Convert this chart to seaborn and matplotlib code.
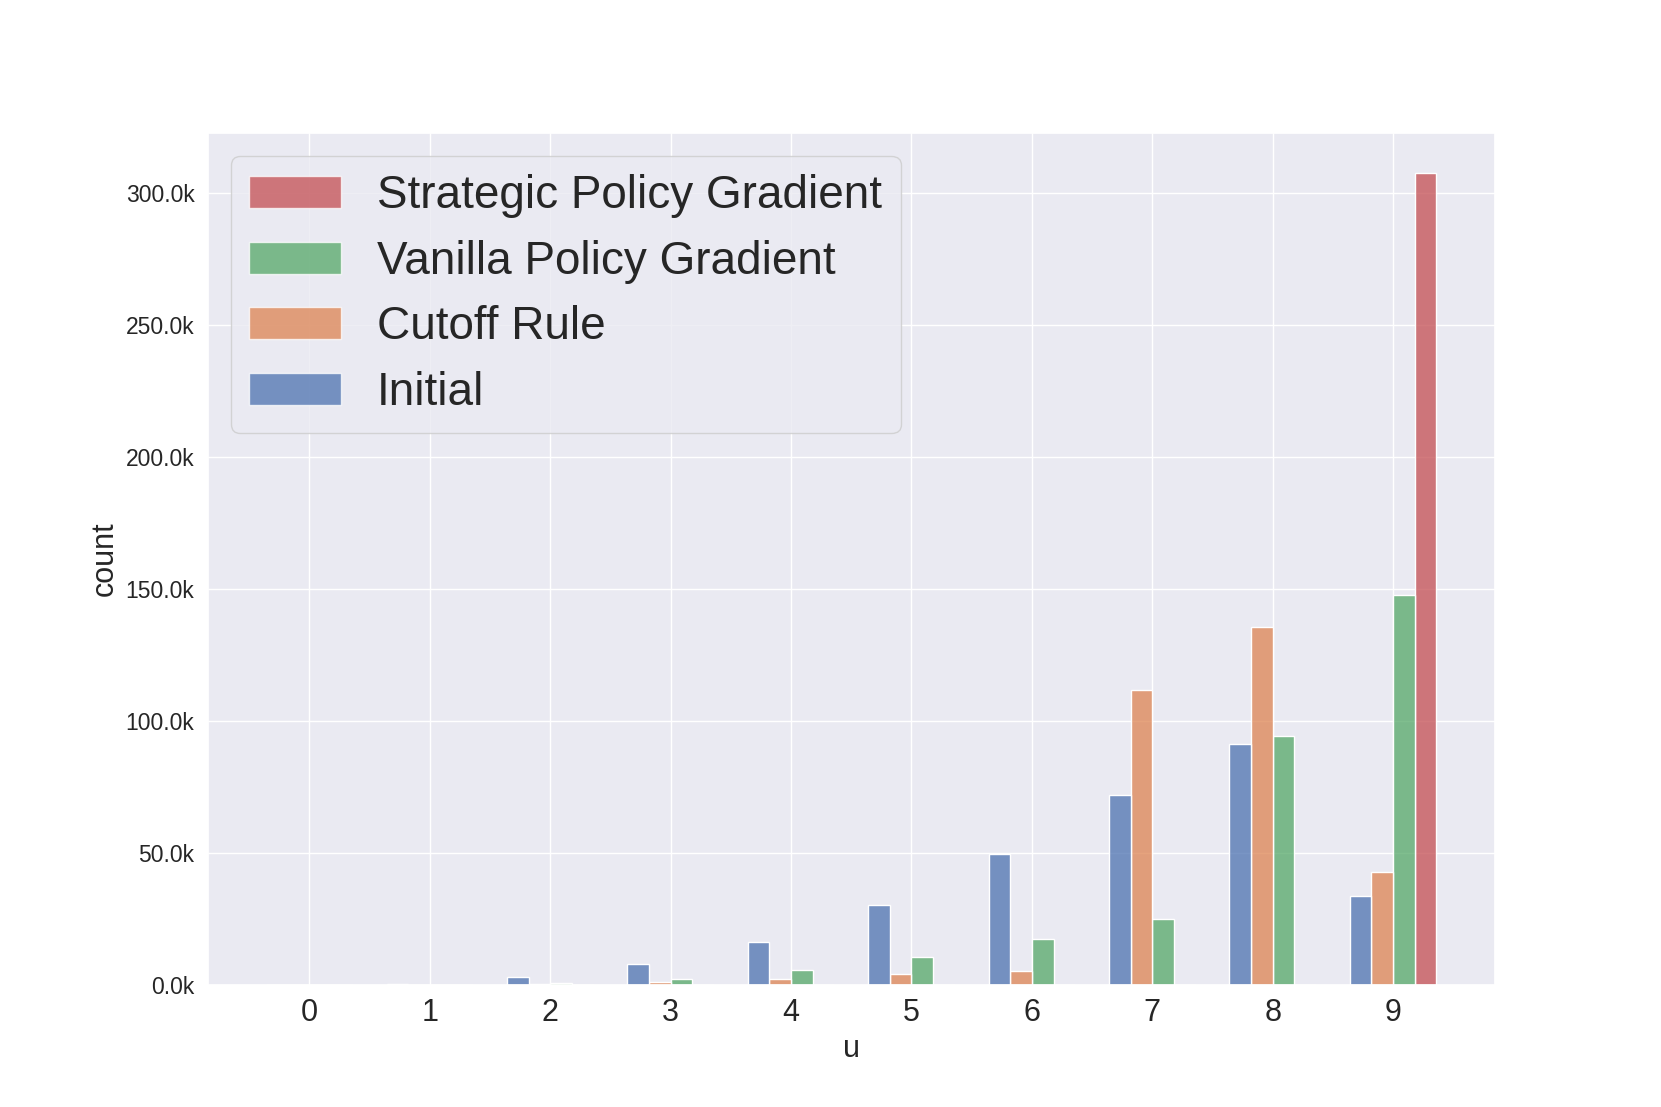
import numpy as np
import pandas as pd
import seaborn as sns
import matplotlib
matplotlib.use("Agg")
import matplotlib.pyplot as plt
from matplotlib.patches import Patch
from matplotlib.ticker import FuncFormatter

# ---- data ----
u_values = [0, 1, 2, 3, 4, 5, 6, 7, 8, 9]
methods = ["Initial", "Cutoff Rule", "Vanilla Policy Gradient", "Strategic Policy Gradient"]
initial_counts = [0, 400, 3000, 8000, 16300, 30200, 49500, 72000, 91200, 33900]
cutoff_counts = [0, 100, 600, 1400, 2300, 4300, 5400, 111900, 135500, 43000]
vanilla_counts = [0, 100, 900, 2500, 5600, 10700, 17600, 24900, 94400, 147600]
strategic_counts = [0, 0, 0, 0, 0, 0, 0, 0, 0, 307300]
legend_order = ["Strategic Policy Gradient", "Vanilla Policy Gradient", "Cutoff Rule", "Initial"]

series = dict(zip(methods, [initial_counts, cutoff_counts, vanilla_counts, strategic_counts]))
rows = []
for m in methods:
    for u, c in zip(u_values, series[m]):
        rows.append({"u": u, "method": m, "count": c})
df = pd.DataFrame(rows)

sns.set_theme(style="darkgrid")
plt.rcParams["font.family"] = ["Liberation Sans", "DejaVu Sans"]

palette = sns.color_palette("deep", 4)
fig, ax = plt.subplots(figsize=(16.61, 11.07), dpi=100)
sns.histplot(data=df, x="u", hue="method", weights="count", hue_order=methods,
             discrete=True, multiple="dodge", shrink=0.72, palette=palette,
             legend=False, ax=ax)

ax.set_xticks(u_values)
ax.yaxis.set_major_formatter(FuncFormatter(lambda v, p: f"{v/1000:.1f}k"))
ax.tick_params(axis="x", labelsize=22)
ax.tick_params(axis="y", labelsize=16.5)
ax.set_xlabel("u", fontsize=22)
ax.set_ylabel("count", fontsize=22)

color_map = dict(zip(methods, palette))
handles = [Patch(facecolor=color_map[m], edgecolor="white", alpha=0.75, label=m) for m in legend_order]
ax.legend(handles=handles, loc="upper left", fontsize=33, labelspacing=0.47)

fig.savefig("out.png", dpi=100)
